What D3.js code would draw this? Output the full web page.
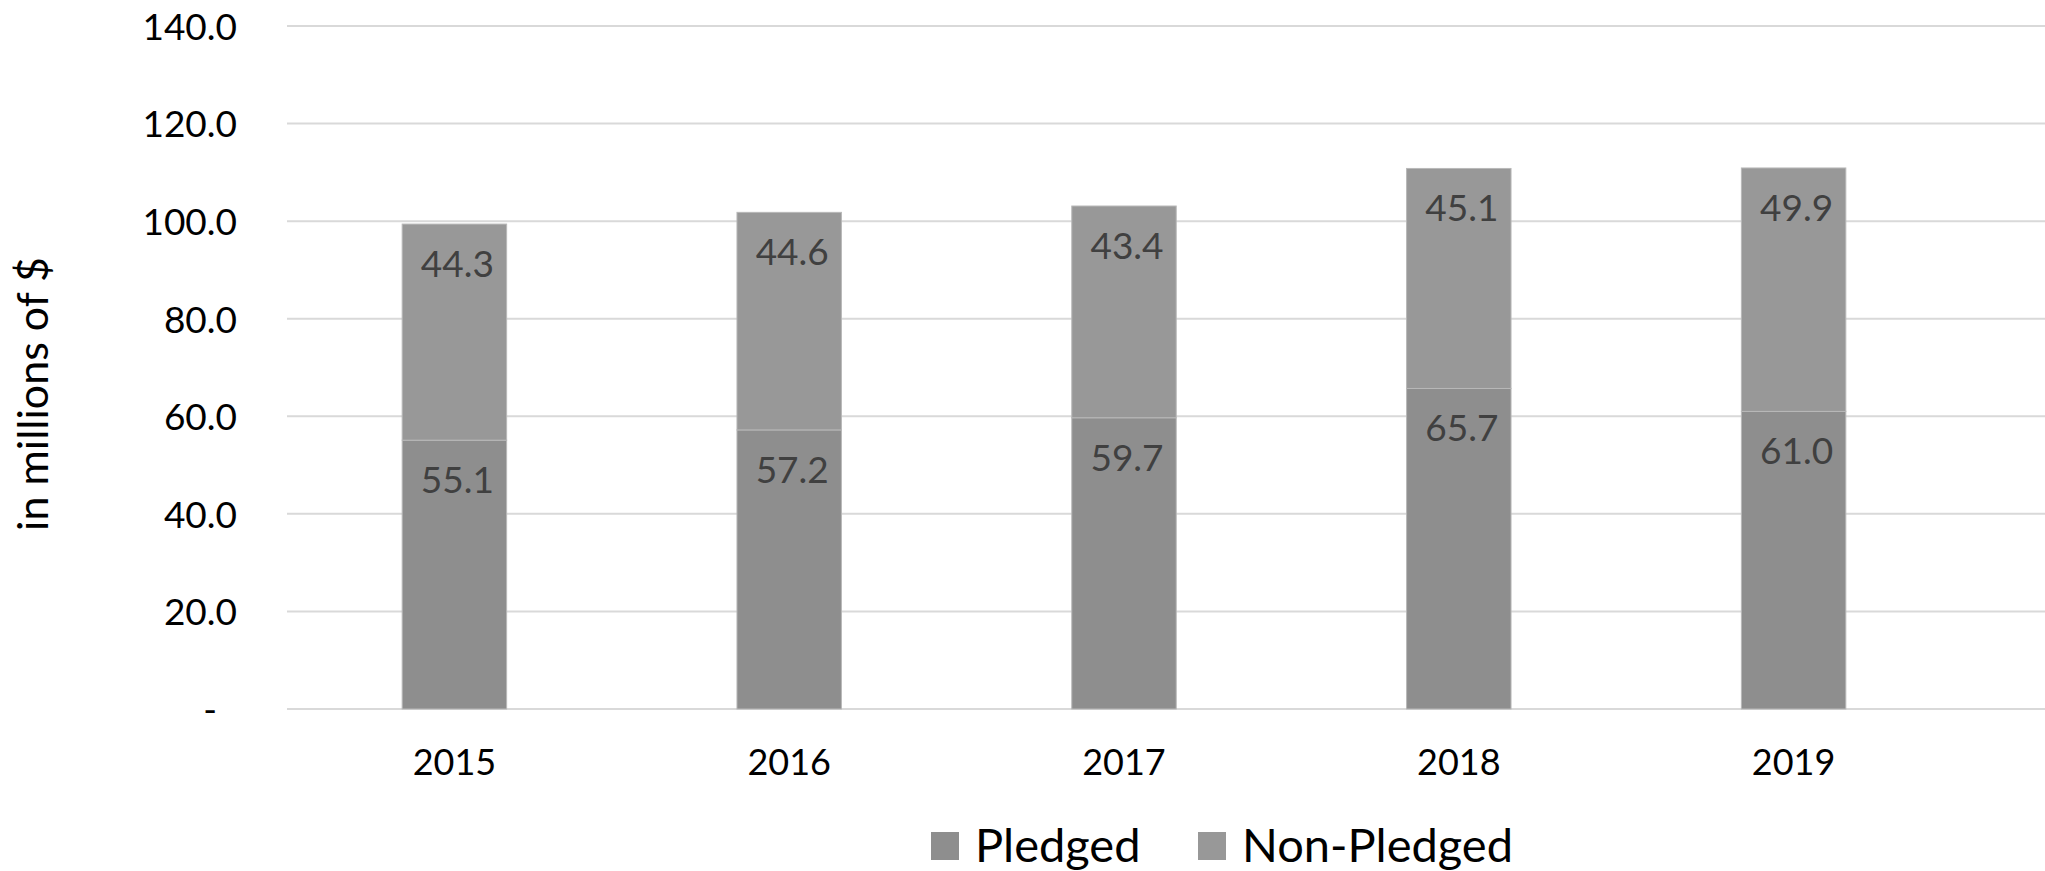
<!DOCTYPE html>
<html><head><meta charset="utf-8">
<script src="https://cdn.jsdelivr.net/npm/d3@7"></script>
<style>html,body{margin:0;padding:0;background:#fff;} svg{display:block;font-family:Lato,"Open Sans",sans-serif;}</style>
</head><body>
<script>
const years = ["2015","2016","2017","2018","2019"];
const pledged = [55.1, 57.2, 59.7, 65.7, 61.0];
const nonPledged = [44.3, 44.6, 43.4, 45.1, 49.9];
const seriesNames = ["Pledged","Non-Pledged"];
const yTicks = [0,20,40,60,80,100,120,140];
const colors = ["#8e8e8e","#989898"];

const W = 2045, H = 871;
const svg = d3.select("body").append("svg").attr("width", W).attr("height", H);

const x = d3.scaleBand().domain(years).range([287, 1961]).paddingInner(0.688).paddingOuter(0.344);
const y = d3.scaleLinear().domain([0,140]).range([709, 26]);

// gridlines
svg.append("g").selectAll("line").data(yTicks).join("line")
  .attr("x1", 287).attr("x2", W).attr("y1", d=>y(d)).attr("y2", d=>y(d))
  .attr("stroke", "#d9d9d9").attr("stroke-width", 2);

// y axis labels
const yAxis = d3.axisLeft(y).tickValues(yTicks).tickSize(0).tickPadding(0)
  .tickFormat(d => d === 0 ? "-" : d3.format(".1f")(d));
const ga = svg.append("g").attr("transform", "translate(237,0)").call(yAxis);
ga.select(".domain").remove();
ga.selectAll("text").attr("font-size", 37).attr("fill", "#000").attr("font-family", "Lato").attr("dy", "0.36em");
ga.selectAll(".tick").filter(d=>d===0).select("text").attr("dx", -20);

// x axis labels
const xAxis = d3.axisBottom(x).tickSize(0).tickPadding(0);
const gx = svg.append("g").attr("transform", "translate(0,749)").call(xAxis);
gx.select(".domain").remove();
gx.selectAll("text").attr("font-size", 36).attr("fill", "#000").attr("font-family", "Lato").attr("dy", "0.71em");

// stacked data
const rows = years.map((yr,i)=>({year: yr, Pledged: pledged[i], "Non-Pledged": nonPledged[i]}));
const stack = d3.stack().keys(seriesNames)(rows);

const layers = svg.append("g").selectAll("g").data(stack).join("g").attr("fill", (d,i)=>colors[i]);
layers.selectAll("rect").data(d=>d).join("rect")
  .attr("x", d=>x(d.data.year)).attr("width", x.bandwidth())
  .attr("y", d=>y(d[1])).attr("height", d=>y(d[0])-y(d[1]))
  .attr("stroke", "#b8b8b8").attr("stroke-width", 1);

// labels
const lab = svg.append("g");
stack.forEach((s)=>{
  lab.selectAll(null).data(s).join("text")
    .attr("x", d=>x(d.data.year)+x.bandwidth()/2+3)
    .attr("y", d=>y(d[1])+53)
    .attr("text-anchor","middle").attr("font-size", 37).attr("fill","#404040")
    .text(d=>d3.format(".1f")(d[1]-d[0]));
});

// y title
svg.append("text").attr("transform","translate(48,394) rotate(-90)")
  .attr("text-anchor","middle").attr("font-size", 43).attr("fill","#000")
  .text("in millions of $");

// legend
const leg = svg.append("g");
const legX = [931, 1198];
seriesNames.forEach((n,i)=>{
  leg.append("rect").attr("x", legX[i]).attr("y", 832).attr("width", 28).attr("height", 28).attr("fill", colors[i]);
  leg.append("text").attr("x", legX[i]+44).attr("y", 862).attr("font-size", 47).attr("fill","#000").text(n);
});
</script>
</body></html>
